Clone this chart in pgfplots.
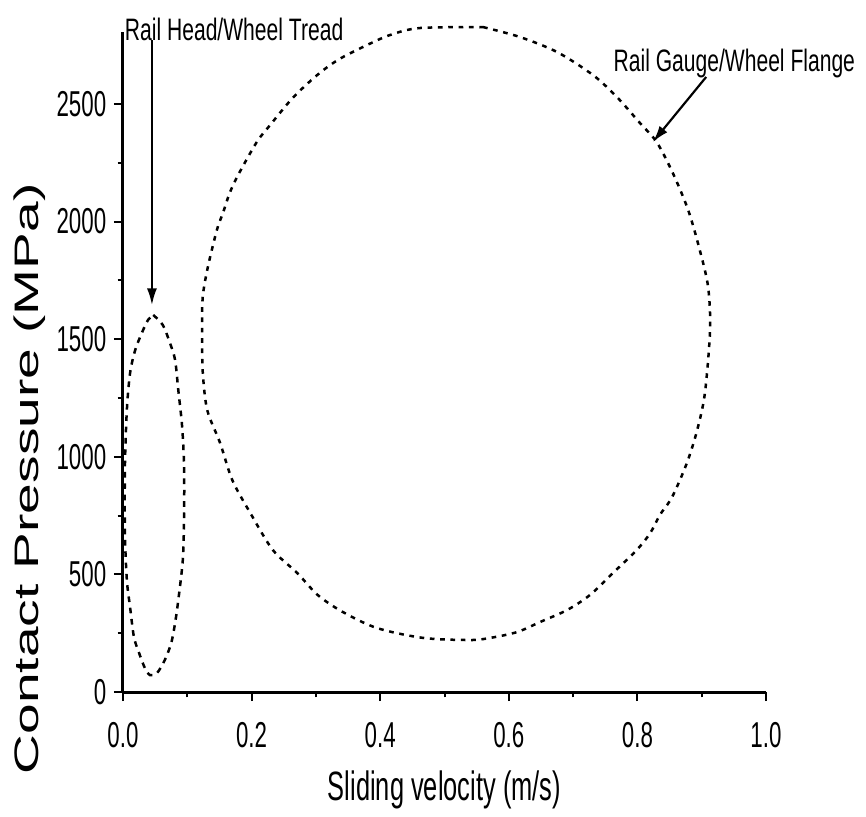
\documentclass[border=0pt]{standalone}
\usepackage{fontspec}
\setmainfont{Liberation Sans}
% the source image is squeezed sideways, so the type is too
\newfontfamily\narrowfont{Liberation Sans}[FakeStretch=0.62]
\newfontfamily\annofont{Liberation Sans}[FakeStretch=0.68]
\newfontfamily\tallfont{Liberation Sans}[FakeStretch=1.62]
\usepackage{pgfplots}
\usepackage{pgfplotstable}
\pgfplotsset{compat=1.18}
\usetikzlibrary{arrows.meta}

% contact zones (velocity m/s, pressure MPa)
\pgfplotstableread{
x y
0.560 2827
0.617 2785
0.675 2721
0.731 2623
0.768 2530
0.804 2419
0.830 2338
0.855 2207
0.879 2049
0.897 1879
0.910 1722
0.913 1539
0.905 1271
0.893 1114
0.877 974
0.854 829
0.835 753
0.820 676
0.799 604
0.762 506
0.726 412
0.691 349
0.649 298
0.613 255
0.571 230
0.540 221
0.467 230
0.395 272
0.342 340
0.303 412
0.271 506
0.233 604
0.198 761
0.170 901
0.151 1059
0.131 1199
0.124 1361
0.123 1526
0.124 1679
0.132 1807
0.146 1964
0.156 2041
0.166 2122
0.179 2198
0.208 2338
0.229 2411
0.264 2526
0.302 2623
0.334 2687
0.373 2742
0.415 2793
0.462 2823
0.560 2827
}\gaugeflange

\pgfplotstableread{
x y
0.047 1603
0.062 1560
0.073 1484
0.081 1412
0.086 1284
0.092 1127
0.095 957
0.095 744
0.093 561
0.086 391
0.081 293
0.075 208
0.065 136
0.053 81
0.042 72
0.034 102
0.025 166
0.017 234
0.011 361
0.006 476
0.003 676
0.003 957
0.006 1199
0.011 1356
0.019 1454
0.030 1531
0.039 1582
0.047 1603
}\headtread

\newcommand\annfont{\annofont\fontsize{9.3}{10}\selectfont}

\begin{document}
\begin{tikzpicture}
\begin{axis}[
  at={(0,0)}, anchor=south west,
  scale only axis, width=192.9pt, height=198pt,
  xmin=0, xmax=1, ymin=0, ymax=2806,
  axis x line=bottom, axis y line=left,
  axis line style={-, line width=0.9pt},
  xtick={0,0.2,0.4,0.6,0.8,1.0},
  xticklabels={0.0,0.2,0.4,0.6,0.8,1.0},
  ytick={0,500,1000,1500,2000,2500},
  minor x tick num=1, minor y tick num=1,
  tick align=outside,
  major tick length=2.7pt, minor tick length=1.6pt,
  tick style={line width=0.6pt, black},
  scaled ticks=false,
  /pgf/number format/1000 sep={},
  /pgf/number format/assume math mode=true,
  tick label style={font=\narrowfont\fontsize{10.8}{12}\selectfont},
  xticklabel style={yshift=-3pt},
  yticklabel style={xshift=1.2pt},
  xlabel={Sliding velocity (m/s)},
  ylabel={Contact Pressure (MPa)},
  xlabel style={font=\narrowfont\fontsize{12.3}{13}\selectfont,
    at={(axis description cs:0.5,-0.148)}, anchor=center},
  ylabel style={font=\tallfont\fontsize{10.2}{12}\selectfont,
    at={(axis description cs:-0.145,0.323)}, anchor=center},
  clip=false,
]
\addplot[black, line width=0.75pt, dash pattern=on 1.4pt off 1.7pt, smooth]
  table {\gaugeflange};
\addplot[black, line width=0.75pt, dash pattern=on 1.7pt off 1.7pt, smooth]
  table {\headtread};
\addplot[black, line width=0.65pt, -{Latex[length=5pt,width=3pt]}]
  coordinates {(0.045,2772) (0.045,1645)};
\addplot[black, line width=0.65pt, -{Latex[length=5pt,width=3pt]}]
  coordinates {(0.907,2615) (0.824,2338)};
\node[anchor=base west, font=\annfont, inner sep=0pt] at (axis cs:0.002,2772)
  {Rail Head/Wheel Tread};
\node[anchor=base west, font=\annfont, inner sep=0pt] at (axis cs:0.762,2636)
  {Rail Gauge/Wheel Flange};
\end{axis}
\pgfresetboundingbox
\path[use as bounding box] (-36.9pt,-37.2pt) rectangle (222.9pt,207.6pt);
\end{tikzpicture}
\end{document}
